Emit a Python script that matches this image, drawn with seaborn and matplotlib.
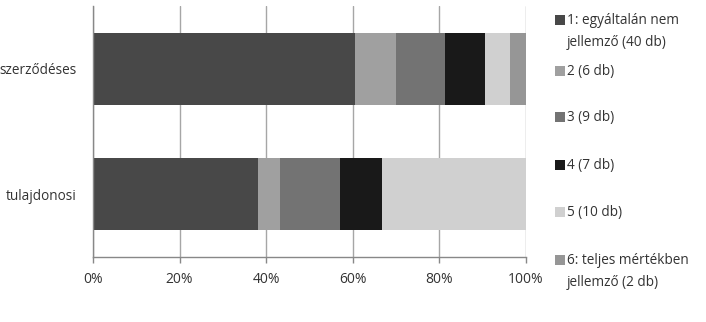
import matplotlib
matplotlib.use("Agg")
import matplotlib.pyplot as plt
import seaborn as sns
import pandas as pd
import numpy as np
from matplotlib.patches import Rectangle

categories = ["szerződéses", "tulajdonosi"]
s1 = [60.5, 38.1]
s2 = [9.4, 5.0]
s3 = [11.4, 14.0]
s4 = [9.2, 9.6]
s5 = [5.8, 33.3]
s6 = [3.7, 0.0]
series = [s1, s2, s3, s4, s5, s6]
labels = ["1: egyáltalán nem\njellemző (40 db)", "2 (6 db)", "3 (9 db)", "4 (7 db)",
          "5 (10 db)", "6: teljes mértékben\njellemző (2 db)"]
colors = ["#484848", "#a0a0a0", "#737373", "#191919", "#d0d0d0", "#969696"]
xticks = [0, 20, 40, 60, 80, 100]
xticklabels = ["0%", "20%", "40%", "60%", "80%", "100%"]

sns.set_theme(style="white")
plt.rcParams["font.family"] = ["Open Sans", "DejaVu Sans"]
text_color = "#333333"

W, H = 706, 322
fig = plt.figure(figsize=(W / 100, H / 100), dpi=100)
ax = fig.add_axes([93 / W, (H - 257) / H, (526 - 93) / W, (257 - 6) / H])

cum = np.cumsum(np.array(series), axis=0)
for i in range(len(series) - 1, -1, -1):
    df = pd.DataFrame({"cat": categories, "val": cum[i]})
    sns.barplot(data=df, x="val", y="cat", orient="h", color=colors[i],
                width=0.574, ax=ax, saturation=1, edgecolor="none", linewidth=0)

ax.set_xlim(0, 100)
ax.set_ylim(1.5, -0.5)
ax.set_xticks(xticks)
ax.set_xticklabels(xticklabels, fontsize=10, color=text_color)
ax.set_yticks(range(len(categories)))
ax.set_yticklabels(categories, fontsize=9.8, color=text_color)
ax.set_xlabel("")
ax.set_ylabel("")
ax.set_axisbelow(True)
ax.grid(axis="x", color="#a6a6a6", linewidth=1)
ax.grid(axis="y", visible=False)
for s in ["top", "right"]:
    ax.spines[s].set_visible(False)
for s in ["left", "bottom"]:
    ax.spines[s].set_color("#888888")
    ax.spines[s].set_linewidth(1)
ax.tick_params(axis="x", length=4, width=1, color="#888888", pad=7, direction="out", bottom=True)
ax.tick_params(axis="y", length=0, pad=12)

# legend (manual, Excel-like: marker aligned with first line)
entries_y = [20, 71, 117, 165, 212, 260]
for lab, col, yc in zip(labels, colors, entries_y):
    fig.add_artist(Rectangle((555 / W, (H - yc - 5) / H), 10 / W, 10 / H,
                             transform=fig.transFigure, color=col, lw=0))
    fig.text(567 / W, (H - yc + 7) / H, lab, fontsize=9.8, color=text_color,
             va="top", ha="left", linespacing=1.65)

fig.savefig("out.png", dpi=100)
